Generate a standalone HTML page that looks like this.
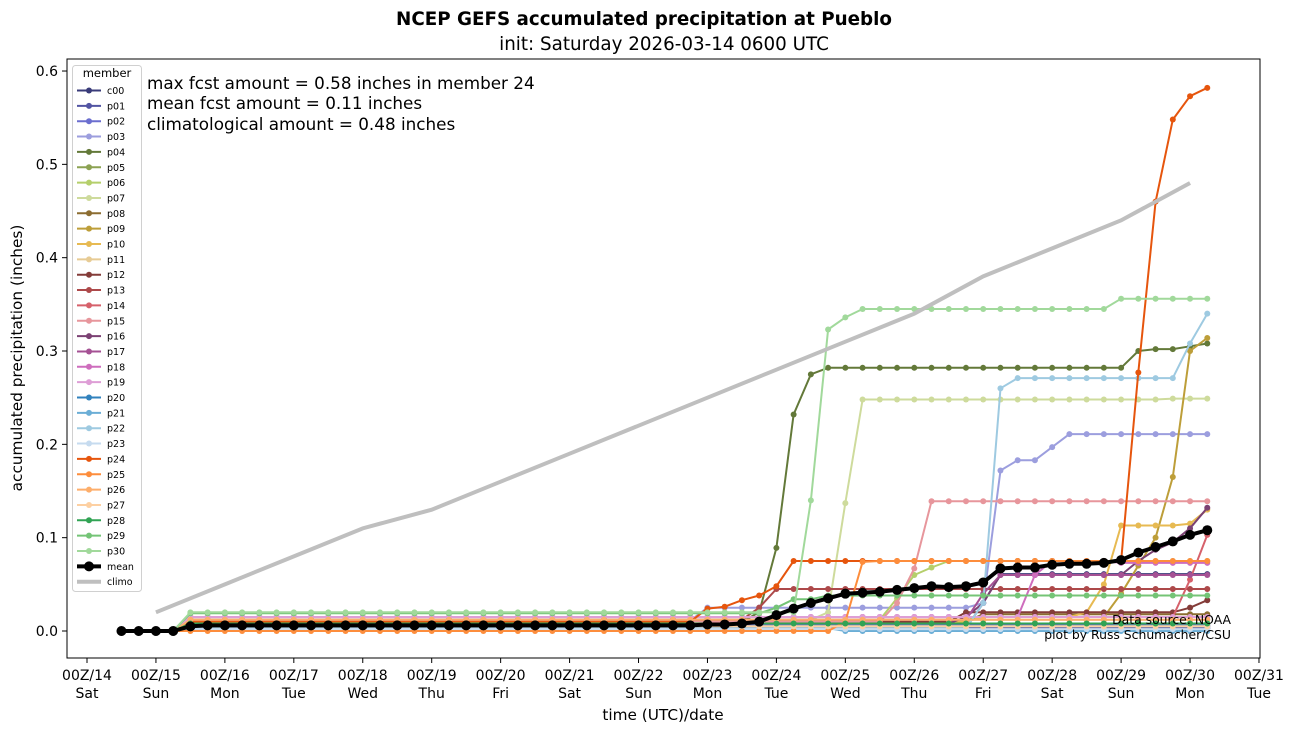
<!DOCTYPE html>
<html><head><meta charset="utf-8"><style>
body{margin:0;background:#fff;}
svg{display:block;font-family:"DejaVu Sans","Liberation Sans",sans-serif;}
</style></head><body>
<svg id="chart" width="1296" height="733">
<rect width="1296" height="733" fill="#fff"/>
<text x="644" y="25" text-anchor="middle" font-size="18.3" font-weight="bold">NCEP GEFS accumulated precipitation at Pueblo</text>
<text x="664" y="50" text-anchor="middle" font-size="18.3">init: Saturday 2026-03-14 0600 UTC</text>
<g id="plot"></g>
<rect x="67" y="59" width="1193" height="599" fill="none" stroke="#000" stroke-width="1"/>
<text x="663" y="720" text-anchor="middle" font-size="15.3">time (UTC)/date</text>
<text transform="translate(22,358) rotate(-90)" text-anchor="middle" font-size="15.3">accumulated precipitation (inches)</text>
<text x="147" y="89" font-size="16.8">max fcst amount = 0.58 inches in member 24</text>
<text x="147" y="109" font-size="16.8">mean fcst amount = 0.11 inches</text>
<text x="147" y="130" font-size="16.8">climatological amount = 0.48 inches</text>
<text x="1231" y="624" text-anchor="end" font-size="12.4">Data source: NOAA</text>
<text x="1231" y="639" text-anchor="end" font-size="12.4">plot by Russ Schumacher/CSU</text>
<g id="legend"></g>
</svg>
<script>
const members=["c00","p01","p02","p03","p04","p05","p06","p07","p08","p09","p10","p11","p12","p13","p14","p15","p16","p17","p18","p19","p20","p21","p22","p23","p24","p25","p26","p27","p28","p29","p30"];
const colors=["#393b79","#5254a3","#6b6ecf","#9c9ede","#637939","#8ca252","#b5cf6b","#cedb9c","#8c6d31","#bd9e39","#e7ba52","#e7cb94","#843c39","#ad494a","#d6616b","#e7969c","#7b4173","#a55194","#ce6dbd","#de9ed6","#3182bd","#6baed6","#9ecae1","#c6dbef","#e6550d","#fd8d3c","#fdae6b","#fdd0a2","#31a354","#74c476","#a1d99b"];
// step-change values: [6-hourly index, accumulated inches]; value holds until next change
const steps=[
[[0,0],[4,0.003],[50,0.03],[51,0.061]],
[[0,0],[4,0.003]],
[[0,0],[4,0.006]],
[[0,0],[4,0.011],[34,0.025],[50,0.03],[51,0.172],[52,0.183],[54,0.197],[55,0.211]],
[[0,0],[4,0.01],[37,0.02],[38,0.089],[39,0.232],[40,0.275],[41,0.282],[59,0.3],[60,0.302],[62,0.305],[63,0.308]],
[[0,0],[4,0.008]],
[[0,0],[4,0.008],[44,0.012],[45,0.035],[46,0.06],[47,0.068],[48,0.075]],
[[0,0],[4,0.012],[41,0.02],[42,0.137],[43,0.248],[61,0.249]],
[[0,0],[4,0.01],[50,0.018]],
[[0,0],[4,0.012],[50,0.015],[58,0.04],[59,0.07],[60,0.1],[61,0.165],[62,0.3],[63,0.314]],
[[0,0],[4,0.01],[50,0.015],[56,0.02],[57,0.05],[58,0.113],[62,0.115],[63,0.13]],
[[0,0],[4,0.012]],
[[0,0],[4,0.01],[49,0.02],[62,0.025],[63,0.033]],
[[0,0],[4,0.012],[37,0.025],[38,0.045]],
[[0,0],[4,0.015],[61,0.015],[62,0.055],[63,0.103]],
[[0,0],[4,0.01],[45,0.03],[46,0.067],[47,0.139]],
[[0,0],[4,0.008],[49,0.015],[50,0.03],[51,0.06],[59,0.075],[60,0.087],[61,0.095],[62,0.11],[63,0.132]],
[[0,0],[4,0.012],[50,0.04],[51,0.06]],
[[0,0],[4,0.015],[52,0.015],[53,0.06],[54,0.075],[58,0.073]],
[[0,0],[4,0.015]],
[[0,0],[4,0.005]],
[[0,0],[4,0.003],[42,0]],
[[0,0],[4,0.003],[50,0.03],[51,0.26],[52,0.271],[62,0.308],[63,0.34]],
[[0,0],[4,0.002]],
[[0,0],[4,0.01],[34,0.024],[35,0.026],[36,0.033],[37,0.038],[38,0.048],[39,0.075],[59,0.277],[60,0.46],[61,0.548],[62,0.573],[63,0.582]],
[[0,0],[42,0.01],[43,0.074],[44,0.075]],
[[0,0],[4,0.012]],
[[0,0],[4,0.005]],
[[0,0],[4,0.008]],
[[0,0],[4,0.019],[38,0.025],[39,0.034],[41,0.038]],
[[0,0],[4,0.02],[39,0.02],[40,0.14],[41,0.323],[42,0.336],[43,0.345],[58,0.356]]
];
const meanVals=[0,0,0,0,0.005,0.006,0.006,0.006,0.006,0.006,0.006,0.006,0.006,0.006,0.006,0.006,0.006,0.006,0.006,0.006,0.006,0.006,0.006,0.006,0.006,0.006,0.006,0.006,0.006,0.006,0.006,0.006,0.006,0.006,0.007,0.007,0.008,0.01,0.017,0.024,0.03,0.035,0.04,0.041,0.042,0.044,0.046,0.048,0.047,0.048,0.052,0.067,0.068,0.068,0.071,0.072,0.072,0.073,0.076,0.084,0.09,0.096,0.103,0.108];
const climoDays=[15,16,17,18,19,20,21,22,23,24,25,26,27,28,29,30];
const climoVals=[0.02,0.05,0.08,0.11,0.13,0.16,0.19,0.22,0.25,0.28,0.31,0.34,0.38,0.41,0.44,0.48];
const xTickDays=[14,15,16,17,18,19,20,21,22,23,24,25,26,27,28,29,30,31];
const xTickWeekdays=["Sat","Sun","Mon","Tue","Wed","Thu","Fri","Sat","Sun","Mon","Tue","Wed","Thu","Fri","Sat","Sun","Mon","Tue"];
const yTicks=[0,0.1,0.2,0.3,0.4,0.5,0.6];
const NPTS=64;

const NS="http://www.w3.org/2000/svg";
const xDay=d=>87+68.94*(d-14);
const xIdx=i=>xDay(14.5+0.25*i);
const y=v=>631-933.3*v;
const plot=document.getElementById('plot');
const legend=document.getElementById('legend');
function mk(tag,attrs,parent){const e=document.createElementNS(NS,tag);for(const k in attrs)e.setAttribute(k,attrs[k]);parent.appendChild(e);return e;}
function expand(s){const out=[];let k=0,v=0;for(let i=0;i<NPTS;i++){while(k<s.length&&s[k][0]<=i){v=s[k][1];k++;}out.push(v);}return out;}

xTickDays.forEach((d,i)=>{
  const x=xDay(d);
  const t=mk('line',{x1:x,x2:x,y1:658,y2:663,stroke:'#000'},plot);
  
  
  const l=mk('text',{x:x,y:680,'text-anchor':'middle','font-size':14},plot);
  l.textContent='00Z/'+d;
  
  
  const w=mk('text',{x:x,y:698,'text-anchor':'middle','font-size':14},plot);
  w.textContent=xTickWeekdays[i];
  
  
});
yTicks.forEach(v=>{
  const yy=y(v);
  const t=mk('line',{x1:62,x2:67,y1:yy,y2:yy,stroke:'#000'},plot);
  
  
  const l=mk('text',{x:58,y:yy+5,'text-anchor':'end','font-size':14},plot);
  l.textContent=v.toFixed(1);
  
  
});

function series(vals,color,lw,r,name){
  const g=mk('g',{},plot);
  
  
  const pts=vals.map((v,i)=>xIdx(i).toFixed(1)+','+y(v).toFixed(1)).join(' ');
  mk('polyline',{points:pts,fill:'none',stroke:color,'stroke-width':lw,'stroke-linejoin':'round'},g);
  vals.forEach((v,i)=>{
    const c=mk('circle',{cx:xIdx(i),cy:y(v),r:r,fill:color},g);
    
    
  });
}
members.forEach((m,i)=>series(expand(steps[i]),colors[i],2,3,'series-'+m));
series(meanVals,'#000',4,5,'series-mean');
const climoLine=mk('polyline',{points:climoDays.map((d,i)=>xDay(d)+','+y(climoVals[i])).join(' '),fill:'none',stroke:'#bfbfbf','stroke-width':4},plot);



const box=mk('rect',{x:72.5,y:65.5,width:69,height:526,rx:3,fill:'#fff','fill-opacity':0.85,stroke:'#d0d0d0'},legend);


const lt=mk('text',{x:107,y:77,'text-anchor':'middle','font-size':11.5},legend);
lt.textContent='member';


const entries=members.map((m,i)=>[m,colors[i],2,3]).concat([['mean','#000',4,5],['climo','#bfbfbf',4,0]]);
entries.forEach((e,i)=>{
  const yy=90.5+15.35*i;
  const g=mk('g',{},legend);
  
  
  mk('line',{x1:77,x2:101,y1:yy,y2:yy,stroke:e[1],'stroke-width':e[2]},g);
  if(e[3])mk('circle',{cx:89,cy:yy,r:e[3],fill:e[1]},g);
  const t=mk('text',{x:107,y:yy+3.5,'font-size':9.5},g);
  t.textContent=e[0];
});
</script>
</body></html>
